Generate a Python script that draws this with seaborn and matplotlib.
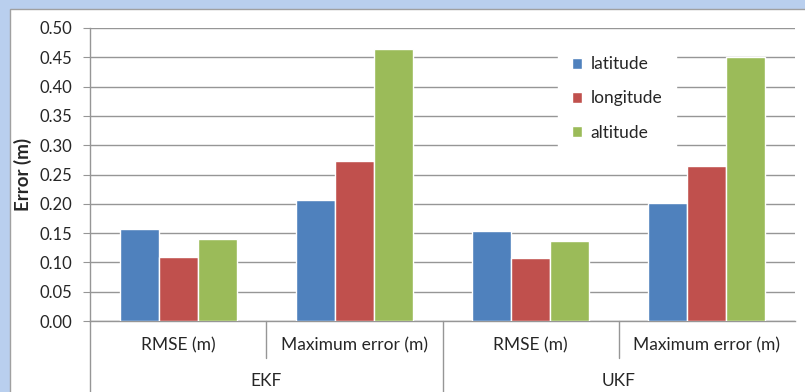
import pandas as pd
import seaborn as sns
from matplotlib import pyplot as plt
from matplotlib.patches import Rectangle
from matplotlib.lines import Line2D

# Values
categories = ['RMSE (m)', 'Maximum error (m)', 'RMSE (m) ', 'Maximum error (m) ']
tick_labels = ['RMSE (m)', 'Maximum error (m)', 'RMSE (m)', 'Maximum error (m)']
groups = ['EKF', 'UKF']
latitude = [0.157, 0.207, 0.154, 0.202]
longitude = [0.109, 0.273, 0.107, 0.265]
altitude = [0.140, 0.464, 0.137, 0.450]
series = ['latitude', 'longitude', 'altitude']
colors = ['#4F81BD', '#C0504D', '#9BBB59']

df = pd.DataFrame({'cat': categories * 3,
                   'val': latitude + longitude + altitude,
                   'series': [s for s in series for _ in categories]})

sns.set_style('white')
plt.rcParams['font.family'] = ['Lato', 'DejaVu Sans']

fig = plt.figure(figsize=(8.05, 3.92), dpi=100)
fig.patch.set_facecolor('#B9CFEE')
# white chart area inside the selection border
fig.patches.append(Rectangle((10 / 805, -0.01), 1, 1.01 - 9 / 392, transform=fig.transFigure,
                             facecolor='white', edgecolor='#A0A0A0', lw=1, zorder=-5))

ax = fig.add_axes([90 / 805, 1 - 321 / 392, 705 / 805, 293 / 392])
ax.set_facecolor('none')
sns.barplot(data=df, x='cat', y='val', hue='series', palette=colors, width=0.665,
            saturation=1, ax=ax, zorder=3)

ax.set_ylim(0, 0.5)
ax.set_xlim(-0.5, 3.5)
ax.set_yticks([i * 0.05 for i in range(11)])
ax.set_yticklabels(['%.2f' % (i * 0.05) for i in range(11)], fontsize=12)
ax.yaxis.grid(True, color='#969696', lw=1, zorder=0)
ax.set_axisbelow(True)
ax.tick_params(axis='y', left=True, length=5, color='#969696', pad=8)
ax.set_xticks([])
ax.set_xlabel('')
ax.set_ylabel('Error (m)', fontsize=13.5, fontweight='bold', labelpad=5)
for s in ['top', 'right']:
    ax.spines[s].set_visible(False)
for s in ['left', 'bottom']:
    ax.spines[s].set_color('#969696')
    ax.spines[s].set_linewidth(1)

# category and group labels under the axis
for i, lab in enumerate(tick_labels):
    ax.text((i + 0.5) / 4, -0.082, lab, transform=ax.transAxes, ha='center', va='center', fontsize=12.5)
for j, g in enumerate(groups):
    ax.text((2 * j + 1) / 4, -0.205, g, transform=ax.transAxes, ha='center', va='center', fontsize=12.5)
for xpos, depth in [(0, -0.25), (0.25, -0.127), (0.5, -0.25), (0.75, -0.127)]:
    ax.add_line(Line2D([xpos, xpos], [0, depth], transform=ax.transAxes, color='#969696',
                       lw=1, clip_on=False))

leg = ax.legend(loc='upper left', bbox_to_anchor=(0.651, 0.981), frameon=True, fontsize=12.5,
                handlelength=0.6, handleheight=0.6, labelspacing=1.05, handletextpad=0.5,
                borderpad=0.8)
leg.get_frame().set_facecolor('white')
leg.get_frame().set_edgecolor('white')
leg.get_frame().set_alpha(1)

fig.savefig('out.png', dpi=100, facecolor=fig.get_facecolor())
